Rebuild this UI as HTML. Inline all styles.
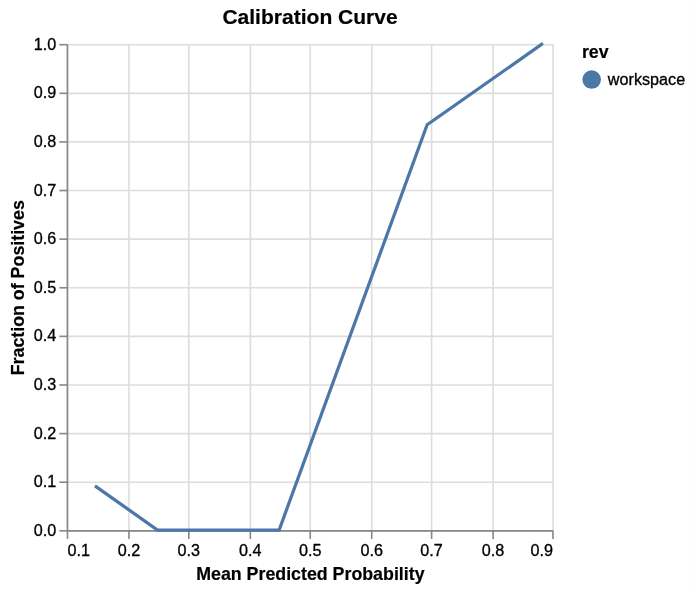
<!DOCTYPE html>
<html><head><meta charset="utf-8"><title>Calibration Curve</title>
<style>
html,body{margin:0;padding:0;background:#fff;}
body{width:700px;height:595px;overflow:hidden;}
svg{display:block;filter:blur(0.3px);font-family:"Liberation Sans",sans-serif;}
</style></head><body>
<svg width="700" height="595" viewBox="0 0 432 367.2">
<rect width="432" height="368" fill="#fff"/>
<rect x="426" y="0" width="0.62" height="363" fill="#fcfcfc"/>
<g transform="translate(41.13,27.09) scale(0.9988,1)">
<g stroke="#ddd" stroke-width="1" fill="none">
<line x1="0.5" y1="0" x2="0.5" y2="300.5"/>
<line x1="38.5" y1="0" x2="38.5" y2="300.5"/>
<line x1="75.5" y1="0" x2="75.5" y2="300.5"/>
<line x1="113.5" y1="0" x2="113.5" y2="300.5"/>
<line x1="150.5" y1="0" x2="150.5" y2="300.5"/>
<line x1="188.5" y1="0" x2="188.5" y2="300.5"/>
<line x1="225.5" y1="0" x2="225.5" y2="300.5"/>
<line x1="263.5" y1="0" x2="263.5" y2="300.5"/>
<line x1="300.5" y1="0" x2="300.5" y2="300.5"/>
<line x1="0.5" y1="0.5" x2="301" y2="0.5"/>
<line x1="0.5" y1="30.5" x2="301" y2="30.5"/>
<line x1="0.5" y1="60.5" x2="301" y2="60.5"/>
<line x1="0.5" y1="90.5" x2="301" y2="90.5"/>
<line x1="0.5" y1="120.5" x2="301" y2="120.5"/>
<line x1="0.5" y1="150.5" x2="301" y2="150.5"/>
<line x1="0.5" y1="180.5" x2="301" y2="180.5"/>
<line x1="0.5" y1="210.5" x2="301" y2="210.5"/>
<line x1="0.5" y1="240.5" x2="301" y2="240.5"/>
<line x1="0.5" y1="270.5" x2="301" y2="270.5"/>
<line x1="0.5" y1="300.5" x2="301" y2="300.5"/>
</g>
<g stroke="#888" stroke-width="1" fill="none">
<line x1="0.5" y1="300.5" x2="0.5" y2="305.5"/>
<line x1="38.5" y1="300.5" x2="38.5" y2="305.5"/>
<line x1="75.5" y1="300.5" x2="75.5" y2="305.5"/>
<line x1="113.5" y1="300.5" x2="113.5" y2="305.5"/>
<line x1="150.5" y1="300.5" x2="150.5" y2="305.5"/>
<line x1="188.5" y1="300.5" x2="188.5" y2="305.5"/>
<line x1="225.5" y1="300.5" x2="225.5" y2="305.5"/>
<line x1="263.5" y1="300.5" x2="263.5" y2="305.5"/>
<line x1="300.5" y1="300.5" x2="300.5" y2="305.5"/>
<line x1="0.5" y1="300.5" x2="300.5" y2="300.5"/>
<line x1="-4.5" y1="0.5" x2="0.5" y2="0.5"/>
<line x1="-4.5" y1="30.5" x2="0.5" y2="30.5"/>
<line x1="-4.5" y1="60.5" x2="0.5" y2="60.5"/>
<line x1="-4.5" y1="90.5" x2="0.5" y2="90.5"/>
<line x1="-4.5" y1="120.5" x2="0.5" y2="120.5"/>
<line x1="-4.5" y1="150.5" x2="0.5" y2="150.5"/>
<line x1="-4.5" y1="180.5" x2="0.5" y2="180.5"/>
<line x1="-4.5" y1="210.5" x2="0.5" y2="210.5"/>
<line x1="-4.5" y1="240.5" x2="0.5" y2="240.5"/>
<line x1="-4.5" y1="270.5" x2="0.5" y2="270.5"/>
<line x1="-4.5" y1="300.5" x2="0.5" y2="300.5"/>
<line x1="0.5" y1="0.5" x2="0.5" y2="300.5"/>
</g>
<g fill="#000" font-size="10" stroke="#000" stroke-width="0.2" stroke-linejoin="round">
<text x="0.5" y="315.85" text-anchor="start">0.1</text>
<text x="38.5" y="315.85" text-anchor="middle">0.2</text>
<text x="75.5" y="315.85" text-anchor="middle">0.3</text>
<text x="113.5" y="315.85" text-anchor="middle">0.4</text>
<text x="150.5" y="315.85" text-anchor="middle">0.5</text>
<text x="188.5" y="315.85" text-anchor="middle">0.6</text>
<text x="225.5" y="315.85" text-anchor="middle">0.7</text>
<text x="263.5" y="315.85" text-anchor="middle">0.8</text>
<text x="300.5" y="315.85" text-anchor="end">0.9</text>
<text x="-6.35" y="3.6" text-anchor="end">1.0</text>
<text x="-6.35" y="33.6" text-anchor="end">0.9</text>
<text x="-6.35" y="63.6" text-anchor="end">0.8</text>
<text x="-6.35" y="93.6" text-anchor="end">0.7</text>
<text x="-6.35" y="123.6" text-anchor="end">0.6</text>
<text x="-6.35" y="153.6" text-anchor="end">0.5</text>
<text x="-6.35" y="183.6" text-anchor="end">0.4</text>
<text x="-6.35" y="213.6" text-anchor="end">0.3</text>
<text x="-6.35" y="243.6" text-anchor="end">0.2</text>
<text x="-6.35" y="273.6" text-anchor="end">0.1</text>
<text x="-6.35" y="303.6" text-anchor="end">0.0</text>
</g>
<g fill="#000" font-weight="bold" stroke="#000" stroke-width="0.12" stroke-linejoin="round">
<text x="150.6" y="330.8" font-size="11" text-anchor="middle">Mean Predicted Probability</text>
<text transform="translate(-26.5,150.5) rotate(-90)" font-size="11" text-anchor="middle">Fraction of Positives</text>
<text x="150.4" y="-12.3" font-size="13" text-anchor="middle">Calibration Curve</text>
<text x="318.4" y="9" font-size="11">rev</text>
</g>
<path d="M17.48,272.76L56.14,300.00L131.29,300.00L222.75,49.92L294.30,-0.30" fill="none" stroke="#4c78a8" stroke-width="2" stroke-linejoin="miter" stroke-linecap="butt"/>
<circle cx="324.4" cy="22" r="5" fill="#4c78a8" stroke="#4c78a8" stroke-width="1.5"/>
<text x="334.4" y="25.2" font-size="10" fill="#000" stroke="#000" stroke-width="0.2" stroke-linejoin="round">workspace</text>
</g></svg></body></html>
